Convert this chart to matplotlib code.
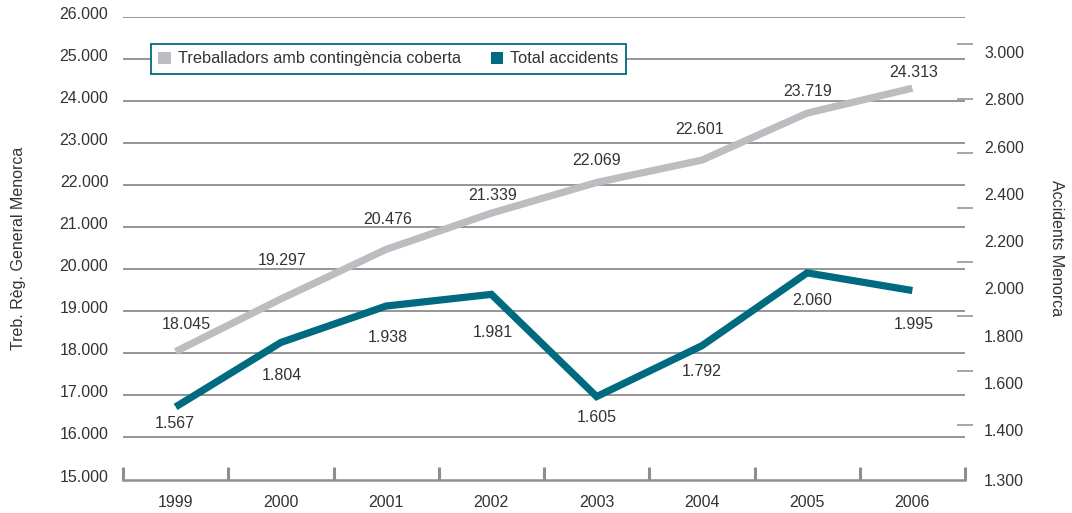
import matplotlib
matplotlib.use("Agg")
import matplotlib.pyplot as plt
from matplotlib.patches import Patch
from matplotlib.transforms import ScaledTranslation
import numpy as np

# ---- data ----
years = ["1999", "2000", "2001", "2002", "2003", "2004", "2005", "2006"]
workers = [18045, 19297, 20476, 21339, 22069, 22601, 23719, 24313]
accidents = [1567, 1804, 1938, 1981, 1605, 1792, 2060, 1995]
left_ticks = list(range(15000, 26001, 1000))
right_label_ticks = list(range(1400, 3001, 200))
right_mark_ticks = list(range(1500, 3000, 200))
series_names = ["Treballadors amb contingència coberta", "Total accidents"]

# label offsets in pixels (dx, dy) -- style only
workers_off = [(11, 27), (1, 38), (2, 30), (1, 18), (0, 22), (-2, 31), (0, 22), (1, 16)]
acc_off = [(-1, -17), (1, -33), (2, -31), (1, -38), (0, -21), (0, -26), (5, -28), (1, -34)]

GRAY = "#bdbdc1"
TEAL = "#006b80"
GRID = "#8e8e8e"
TXT = "#333333"

plt.rcParams['font.family'] = ['Liberation Sans', 'DejaVu Sans']
plt.rcParams['text.color'] = TXT

def fmt(v):
    return f"{v:,}".replace(",", ".")

W, H = 1072, 513
fig = plt.figure(figsize=(W / 100, H / 100), dpi=100)
L, R, T, B = 123, 965, 17.3, 479.5
ax = fig.add_axes([L / W, 1 - B / H, (R - L) / W, (B - T) / H])

x = np.arange(len(years))
ax.set_xlim(-0.5, len(years) - 0.5)
ax.set_ylim(15000, 26000)

# gridlines
for v in left_ticks[1:]:
    ax.axhline(v, color=GRID, lw=1.3, zorder=1)

for s in ["left", "right", "top"]:
    ax.spines[s].set_visible(False)
ax.spines["bottom"].set_color(GRID)
ax.spines["bottom"].set_linewidth(1.8)

ax.set_yticks(left_ticks, [fmt(v) for v in left_ticks])
ax.tick_params(axis="y", length=0, pad=10.5, labelsize=11.5, labelcolor=TXT)
for lab in ax.get_yticklabels():
    lab.set_transform(lab.get_transform() + ScaledTranslation(0, 4 / 100, fig.dpi_scale_trans))

ax.set_xticks(np.arange(-0.5, len(years)), [""] * (len(years) + 1))
ax.tick_params(axis="x", which="major", direction="in", length=9.5, width=2.2, color=GRID)
ax.set_xticks(x, years, minor=True, fontsize=11.5, color=TXT)
ax.tick_params(axis="x", which="minor", length=0, pad=11)

ax.plot(x, workers, color=GRAY, lw=5.2, solid_capstyle="butt", solid_joinstyle="miter", zorder=3)
for xi, v, (dx, dy) in zip(x, workers, workers_off):
    ax.annotate(fmt(v), (xi, v), xytext=(dx, dy), textcoords="offset pixels",
                ha="center", va="center", fontsize=11.5, color=TXT, zorder=4)

ax.set_ylabel("Treb. Règ. General Menorca", fontsize=11.5, color=TXT)
ax.yaxis.set_label_coords((26 - L) / (R - L), 0.5)

# accidents axis
ax2 = ax.twinx()
ax2.set_ylim(1300, 3000)
for s in ax2.spines.values():
    s.set_visible(False)
ax2.set_yticks([1300], [fmt(1300)])
ax2.tick_params(axis="y", which="major", length=0, pad=13.7, labelsize=11.5, labelcolor=TXT)
ax2.set_yticks(right_mark_ticks, minor=True)
ax2.tick_params(axis="y", which="minor", direction="inout", length=11.5, width=1.1, color=GRID)
ax2.plot(x, accidents, color=TEAL, lw=5.2, solid_capstyle="butt", solid_joinstyle="miter", zorder=3)
for xi, v, (dx, dy) in zip(x, accidents, acc_off):
    ax2.annotate(fmt(v), (xi, v), xytext=(dx, dy), textcoords="offset pixels",
                 ha="center", va="center", fontsize=11.5, color=TXT, zorder=4)

# right label axis
ax3 = ax.twinx()
ax3.set_ylim(1190.5, 3147)
for s in ax3.spines.values():
    s.set_visible(False)
ax3.set_yticks(right_label_ticks, [fmt(v) for v in right_label_ticks])
ax3.tick_params(axis="y", length=0, pad=13.7, labelsize=11.5, labelcolor=TXT)
ax3.set_ylabel("Accidents Menorca", rotation=270, fontsize=11.5, color=TXT)
ax3.yaxis.set_label_coords((1064 - L) / (R - L), 0.5)

handles = [Patch(facecolor=GRAY, edgecolor="none"), Patch(facecolor=TEAL, edgecolor="none")]
leg = ax3.legend(handles, series_names, loc="upper left",
                 bbox_to_anchor=((151 - L) / (R - L), (B - 44) / (B - T)),
                 borderaxespad=0, ncol=2, frameon=True, fancybox=False,
                 handlelength=0.75, handleheight=0.75, handletextpad=0.45,
                 columnspacing=1.8, fontsize=11.8, borderpad=0.45)
leg.get_frame().set_edgecolor(TEAL)
leg.get_frame().set_linewidth(1.3)
leg.get_frame().set_facecolor("white")
leg.get_frame().set_alpha(1)

fig.savefig("out.png", dpi=100)
